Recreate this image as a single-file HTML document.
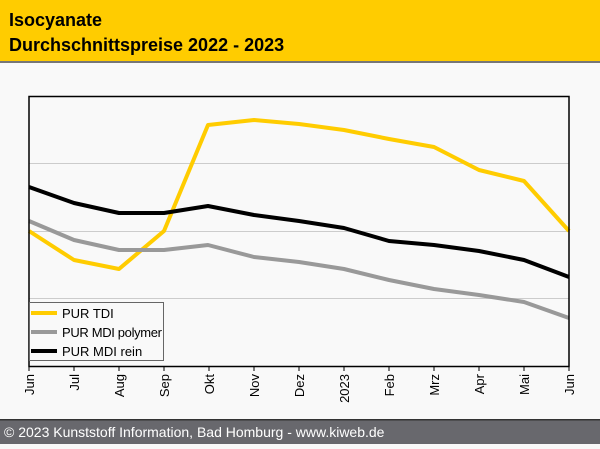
<!DOCTYPE html>
<html><head><meta charset="utf-8"><style>
body{margin:0;width:600px;height:444px;overflow:hidden;background:#f9f9f9;font-family:"Liberation Sans",Arial,sans-serif;}
</style></head><body>
<svg width="600" height="444" xmlns="http://www.w3.org/2000/svg" font-family="Liberation Sans, Arial, sans-serif">
<rect x="0" y="0" width="600" height="444" fill="#f9f9f9"/>
<rect x="0" y="0" width="600" height="61" fill="#ffcc00"/>
<rect x="0" y="61" width="600" height="2" fill="#777"/>
<text x="9" y="26" font-size="18" font-weight="bold">Isocyanate</text>
<text x="9" y="51" font-size="18" font-weight="bold">Durchschnittspreise 2022 - 2023</text>
<rect x="29" y="96.5" width="540" height="270" fill="#f9f9f9" stroke="#000" stroke-width="1"/>
<g stroke="#ccc" stroke-width="1">
<line x1="29" y1="163.5" x2="569" y2="163.5"/>
<line x1="29" y1="231.5" x2="569" y2="231.5"/>
<line x1="29" y1="298.5" x2="569" y2="298.5"/>
</g>
<g fill="none" stroke-width="4" stroke-linejoin="round">
<polyline stroke="#ffcc00" points="29,231 74,260 119,269 164,231 208,125 254,120 299,124 344,130 389,139 434,147 479,170 524,181 569,231"/>
<polyline stroke="#999" points="29,221 74,240 119,250 164,250 208,245 254,257 299,262 344,269 389,280 434,289 479,295 524,302 569,318"/>
<polyline stroke="#000" points="29,187 74,203 119,213 164,213 208,206 254,215 299,221 344,228 389,241 434,245 479,251 524,260 569,277"/>
</g>
<rect x="29" y="96.5" width="540" height="270" fill="none" stroke="#000" stroke-width="1.5"/>
<rect x="29.5" y="302.5" width="134" height="58" fill="#f9f9f9" stroke="#666"/>
<line x1="31" y1="313" x2="57" y2="313" stroke="#ffcc00" stroke-width="4"/>
<line x1="31" y1="332" x2="57" y2="332" stroke="#999" stroke-width="4"/>
<line x1="31" y1="351" x2="57" y2="351" stroke="#000" stroke-width="4"/>
<g font-size="13" fill="#000">
<text x="62" y="318">PUR TDI</text>
<text x="62" y="337" textLength="100">PUR MDI polymer</text>
<text x="62" y="356">PUR MDI rein</text>
</g>
<g stroke="#000" stroke-width="1">
<line x1="29" y1="366" x2="29" y2="371"/><line x1="74" y1="366" x2="74" y2="371"/><line x1="119" y1="366" x2="119" y2="371"/><line x1="164" y1="366" x2="164" y2="371"/><line x1="209" y1="366" x2="209" y2="371"/><line x1="254" y1="366" x2="254" y2="371"/><line x1="299" y1="366" x2="299" y2="371"/><line x1="344" y1="366" x2="344" y2="371"/><line x1="389" y1="366" x2="389" y2="371"/><line x1="434" y1="366" x2="434" y2="371"/><line x1="479" y1="366" x2="479" y2="371"/><line x1="524" y1="366" x2="524" y2="371"/><line x1="569" y1="366" x2="569" y2="371"/>
</g>
<g font-size="13" fill="#000" text-anchor="end">
<text transform="translate(34,374) rotate(-90)">Jun</text>
<text transform="translate(79,374) rotate(-90)">Jul</text>
<text transform="translate(124,374) rotate(-90)">Aug</text>
<text transform="translate(169,374) rotate(-90)">Sep</text>
<text transform="translate(214,374) rotate(-90)">Okt</text>
<text transform="translate(259,374) rotate(-90)">Nov</text>
<text transform="translate(304,374) rotate(-90)">Dez</text>
<text transform="translate(349,374) rotate(-90)">2023</text>
<text transform="translate(394,374) rotate(-90)">Feb</text>
<text transform="translate(439,374) rotate(-90)">Mrz</text>
<text transform="translate(484,374) rotate(-90)">Apr</text>
<text transform="translate(529,374) rotate(-90)">Mai</text>
<text transform="translate(574,374) rotate(-90)">Jun</text>
</g>
<rect x="0" y="419" width="600" height="1.5" fill="#333"/>
<rect x="0" y="420.5" width="600" height="24" fill="#68686d"/>
<text x="4" y="437" font-size="14" fill="#fff">© 2023 Kunststoff Information, Bad Homburg - www.kiweb.de</text>
</svg>
</body></html>
